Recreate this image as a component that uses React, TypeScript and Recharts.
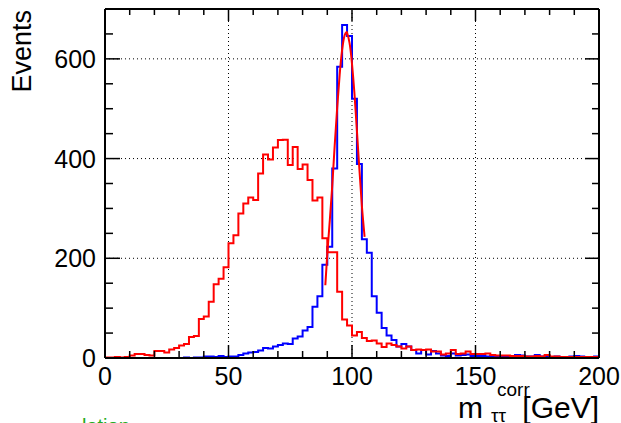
import React from 'react';
import { ComposedChart, Line, XAxis, YAxis, ReferenceLine } from 'recharts';

// Histogram bins: 100 bins of 2 GeV from 0 to 200 GeV
const binWidth = 2;
const binCount = 100;

// Red histogram (broad distribution)
const redCounts = [
  1, 1, 2, 1, 2, 5, 8, 8, 6, 5,
  14, 14, 11, 17, 20, 25, 28, 42, 44, 78,
  83, 113, 148, 159, 182, 230, 246, 290, 310, 322,
  317, 370, 408, 398, 422, 437, 438, 387, 423, 379,
  388, 357, 316, 322, 240, 212, 212, 133, 77, 65,
  45, 52, 40, 34, 35, 29, 22, 29, 26, 23,
  19, 23, 16, 17, 16, 17, 13, 13, 7, 9,
  16, 8, 9, 13, 8, 8, 8, 9, 6, 5,
  5, 5, 4, 4, 4, 3, 3, 4, 3, 6,
  3, 3, 2, 2, 2, 2, 2, 2, 2, 2,
];

// Blue histogram (narrow peak)
const blueCounts = [
  0, 0, 0, 0, 0, 0, 0, 0, 0, 0,
  0, 0, 0, 0, 0, 0, 1, 0, 1, 1,
  3, 3, 2, 4, 2, 3, 3, 6, 9, 11,
  12, 15, 20, 19, 23, 26, 29, 28, 39, 43,
  55, 62, 103, 124, 187, 223, 380, 584, 668, 646,
  520, 389, 238, 211, 124, 91, 60, 45, 36, 23,
  28, 23, 16, 9, 16, 7, 14, 9, 5, 4,
  9, 5, 6, 7, 4, 4, 4, 3, 4, 3,
  3, 3, 3, 6, 5, 3, 3, 6, 3, 4,
  2, 3, 2, 2, 3, 4, 3, 2, 2, 3,
];

// Fitted curve over the peak
const fitMass = [89.2, 90, 91, 92, 93, 94, 95, 96, 97, 97.7, 98, 99, 100, 101, 102, 103, 104, 105.1];
const fitValues = [146, 209, 275, 345, 427, 502, 568, 618, 647, 653, 652, 632, 590, 530, 455, 378, 305, 243];

const xTicks = [0, 10, 20, 30, 40, 50, 60, 70, 80, 90, 100, 110, 120, 130, 140, 150, 160, 170, 180, 190, 200];
const xMajor = [0, 50, 100, 150, 200];
const yTicks = [0, 50, 100, 150, 200, 250, 300, 350, 400, 450, 500, 550, 600, 650];
const yMajor = [0, 200, 400, 600];
const gridX = [50, 100, 150];
const gridY = [200, 400, 600];

const histData = Array.from({ length: binCount + 1 }, (_, i) => ({
  x: i * binWidth,
  red: redCounts[Math.min(i, binCount - 1)],
  blue: blueCounts[Math.min(i, binCount - 1)],
}));

const fitData = fitMass.map((m, i) => ({ x: m, fit: fitValues[i] }));

const FONT = '"Liberation Sans", Arial, Helvetica, sans-serif';

const BottomTick = (props: any) => {
  const { x, y, payload } = props;
  const v = payload.value;
  const major = xMajor.includes(v);
  return (
    <g>
      <line x1={x} x2={x} y1={y} y2={y - (major ? 13 : 7)} stroke="#000" strokeWidth={1.5} />
      {major && (
        <text x={x} y={y + 27} textAnchor="middle" fontSize={25} fontFamily={FONT} fill="#000">
          {v}
        </text>
      )}
    </g>
  );
};

const TopTick = (props: any) => {
  const { x, y, payload } = props;
  const major = xMajor.includes(payload.value);
  return <line x1={x} x2={x} y1={y} y2={y + (major ? 12 : 6)} stroke="#000" strokeWidth={1.5} />;
};

const LeftTick = (props: any) => {
  const { x, y, payload } = props;
  const v = payload.value;
  const major = yMajor.includes(v);
  return (
    <g>
      <line x1={x} x2={x + (major ? 15 : 8)} y1={y} y2={y} stroke="#000" strokeWidth={1.5} />
      {major && (
        <text x={x - 9} y={y + 9} textAnchor="end" fontSize={25} fontFamily={FONT} fill="#000">
          {v}
        </text>
      )}
    </g>
  );
};

const RightTick = (props: any) => {
  const { x, y, payload } = props;
  const major = yMajor.includes(payload.value);
  return <line x1={x} x2={x - (major ? 14 : 7)} y1={y} y2={y} stroke="#000" strokeWidth={1.5} />;
};

export default function App() {
  return (
    <div style={{ position: 'absolute', left: 0, top: 0, width: 621, height: 423, background: '#fff' }}>
      <ComposedChart
        width={621}
        height={423}
        data={histData}
        margin={{ top: 8, right: 21, bottom: 35, left: 0 }}
      >
        <XAxis
          xAxisId="b"
          type="number"
          dataKey="x"
          domain={[0, 200]}
          allowDataOverflow
          ticks={xTicks}
          interval={0}
          tickSize={0}
          tickMargin={0}
          tickLine={false}
          axisLine={{ stroke: '#000', strokeWidth: 2 }}
          height={30}
          tick={BottomTick}
        />
        <XAxis
          xAxisId="t"
          orientation="top"
          type="number"
          dataKey="x"
          domain={[0, 200]}
          allowDataOverflow
          ticks={xTicks}
          interval={0}
          tickSize={0}
          tickMargin={0}
          tickLine={false}
          axisLine={{ stroke: '#000', strokeWidth: 2 }}
          height={1}
          tick={TopTick}
        />
        <YAxis
          yAxisId="l"
          type="number"
          domain={[0, 700]}
          allowDataOverflow
          ticks={yTicks}
          interval={0}
          tickSize={0}
          tickMargin={0}
          tickLine={false}
          axisLine={{ stroke: '#000', strokeWidth: 2 }}
          width={105}
          tick={LeftTick}
        />
        <YAxis
          yAxisId="r"
          orientation="right"
          type="number"
          domain={[0, 700]}
          allowDataOverflow
          ticks={yTicks}
          interval={0}
          tickSize={0}
          tickMargin={0}
          tickLine={false}
          axisLine={{ stroke: '#000', strokeWidth: 2 }}
          width={1}
          tick={RightTick}
        />
        {gridX.map((g) => (
          <ReferenceLine key={'gx' + g} x={g} xAxisId="b" yAxisId="l" stroke="#000" strokeWidth={1} strokeDasharray="1 3" />
        ))}
        {gridY.map((g) => (
          <ReferenceLine key={'gy' + g} y={g} xAxisId="b" yAxisId="l" stroke="#000" strokeWidth={1} strokeDasharray="1 3" />
        ))}
        <Line
          xAxisId="b"
          yAxisId="l"
          type="stepAfter"
          dataKey="blue"
          stroke="#0000ff"
          strokeWidth={2}
          dot={false}
          activeDot={false}
          isAnimationActive={false}
        />
        <Line
          xAxisId="b"
          yAxisId="l"
          type="stepAfter"
          dataKey="red"
          stroke="#ff0000"
          strokeWidth={2}
          dot={false}
          activeDot={false}
          isAnimationActive={false}
        />
        <Line
          xAxisId="b"
          yAxisId="l"
          data={fitData}
          type="natural"
          dataKey="fit"
          stroke="#ff0000"
          strokeWidth={2}
          dot={false}
          activeDot={false}
          isAnimationActive={false}
        />
      </ComposedChart>
      <svg
        width={621}
        height={423}
        style={{ position: 'absolute', left: 0, top: 0, pointerEvents: 'none' }}
      >
        <text
          transform="translate(31,10) rotate(-90)"
          textAnchor="end"
          fontSize={27}
          fontFamily={FONT}
          fill="#000"
        >
          Events
        </text>
        <text x={458} y={418} fontSize={30} fontFamily={FONT} fill="#000">m</text>
        <text x={497} y={396} fontSize={19} fontFamily={FONT} fill="#000">corr</text>
        <text x={491} y={422} fontSize={19} fontFamily={FONT} fill="#000">ττ</text>
        <text x={599} y={418} textAnchor="end" fontSize={30} fontFamily={FONT} fill="#000">[GeV]</text>
        <text x={82} y={433} fontSize={20} fontFamily={FONT} fill="#22aa22">lation</text>
      </svg>
    </div>
  );
}
